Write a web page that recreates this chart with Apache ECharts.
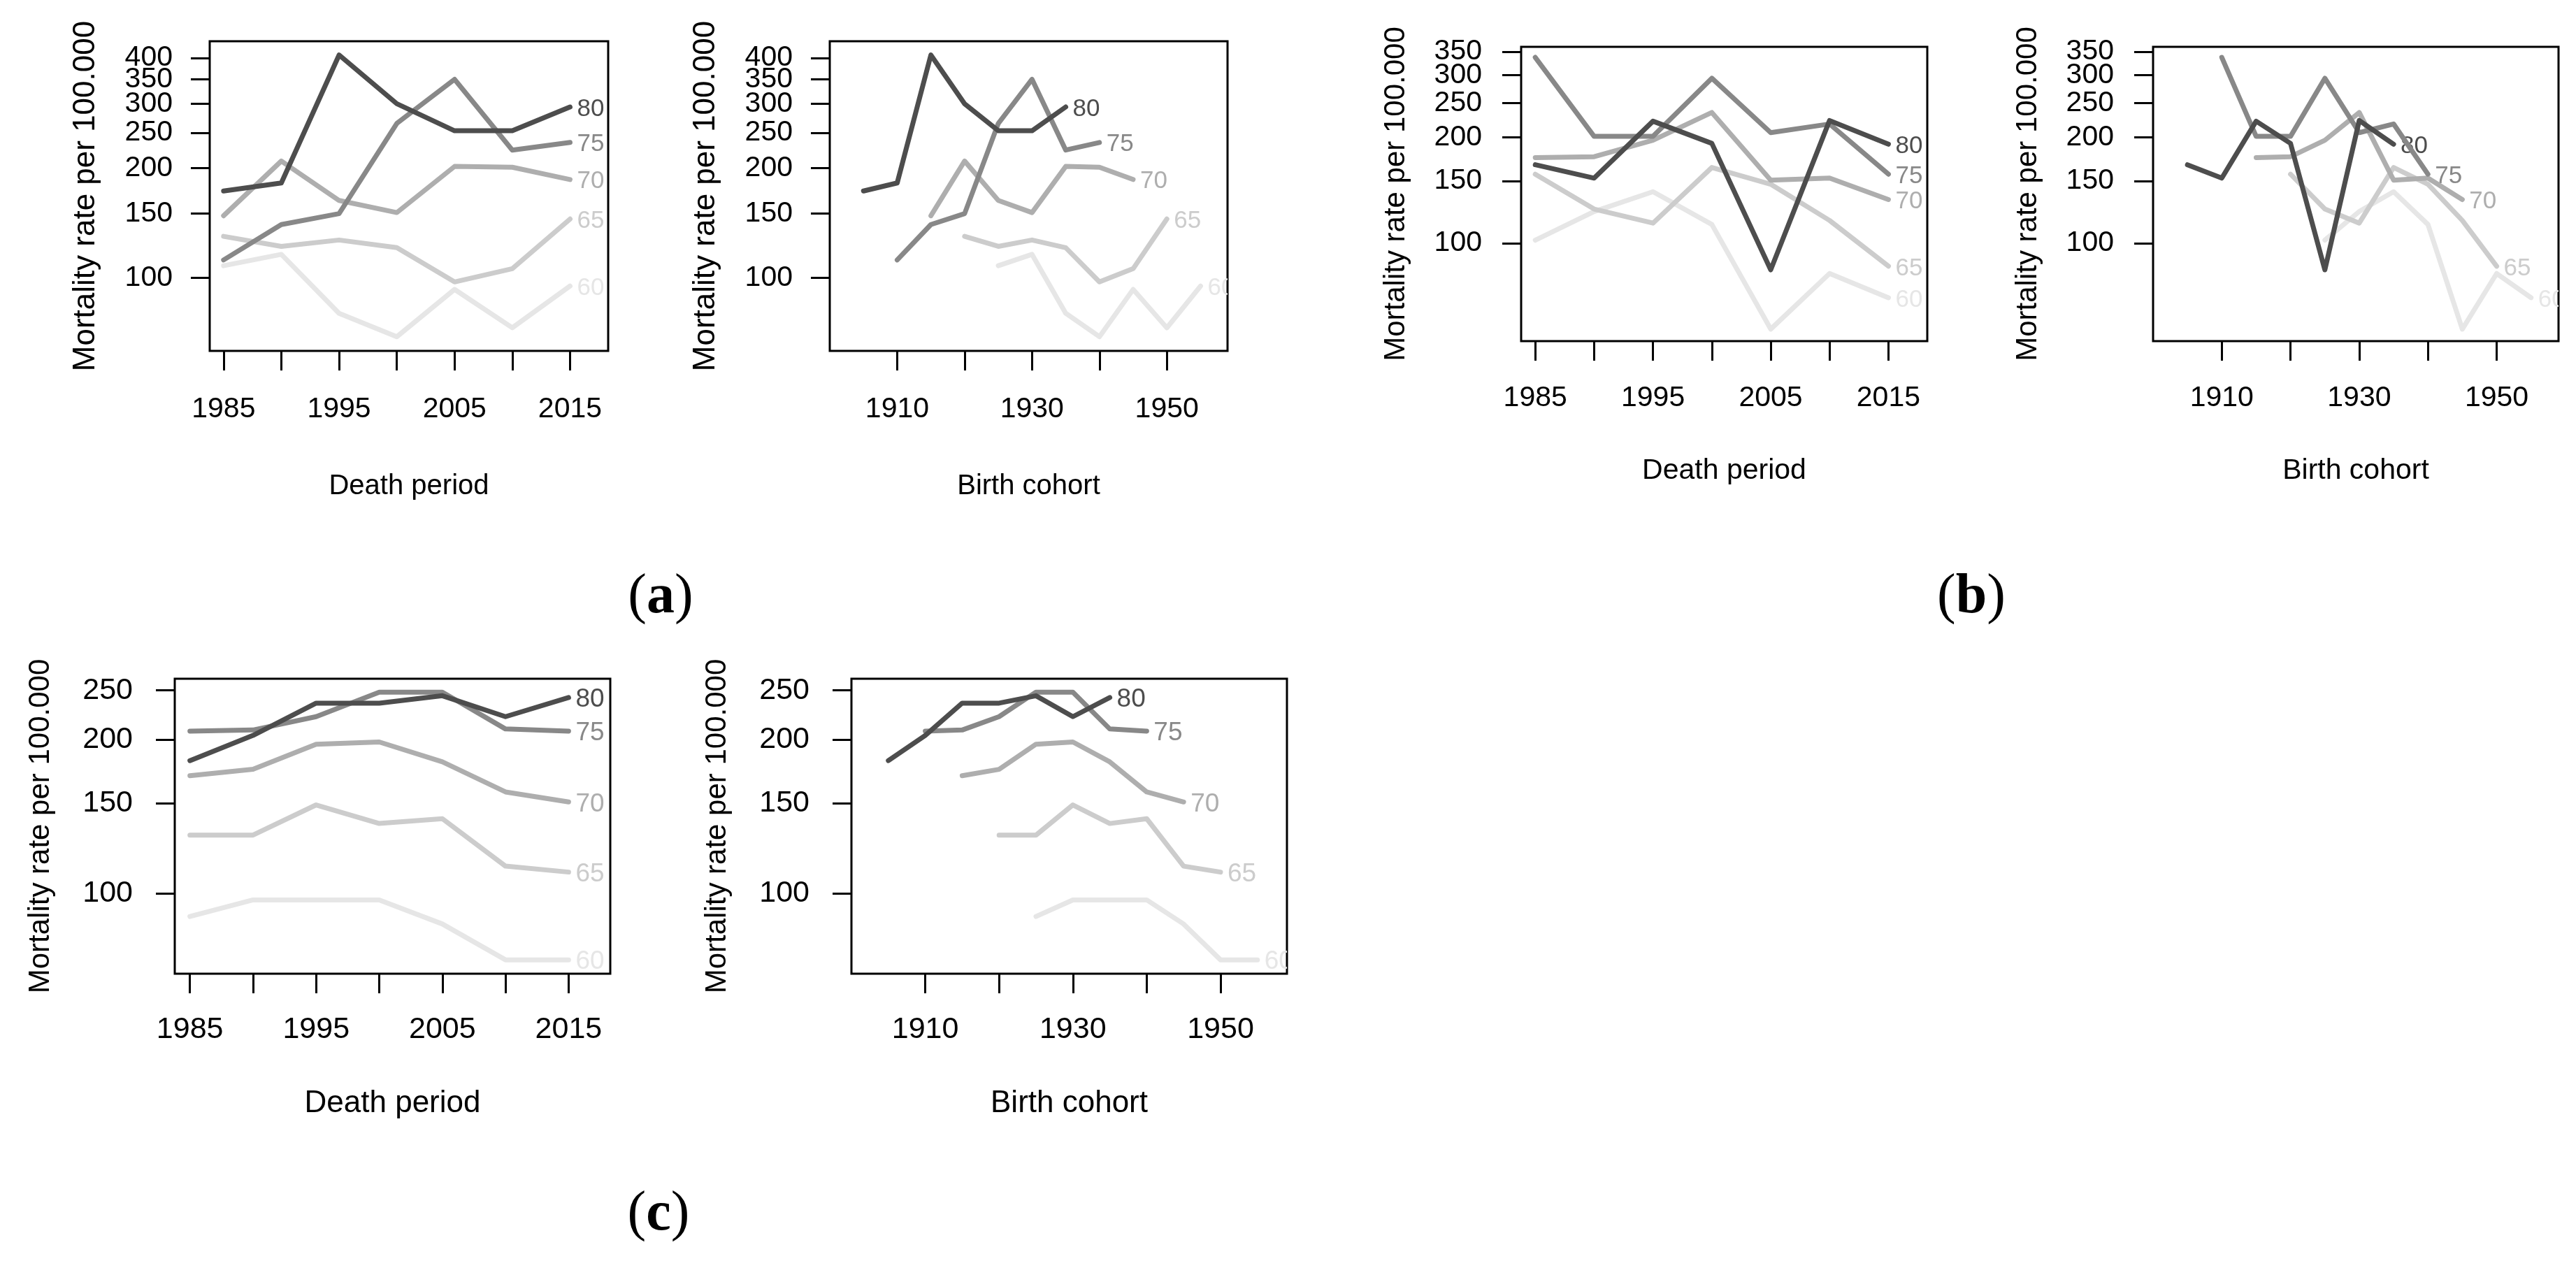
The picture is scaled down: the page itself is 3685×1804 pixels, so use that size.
<!DOCTYPE html>
<html><head><meta charset="utf-8">
<script src="https://cdn.jsdelivr.net/npm/echarts@6.0.0/dist/echarts.min.js"></script>
<style>html,body{margin:0;padding:0;background:#fff;} #chart{width:3685px;height:1804px;}</style>
</head><body><div id="chart"></div>
<script>
// ---- data ----
const periods = [1985, 1990, 1995, 2000, 2005, 2010, 2015];
const ageGroups = [60, 65, 70, 75, 80];
// panel (a)
const a60 = [108, 116, 80, 69, 93, 73, 95];
const a65 = [130, 122, 127, 121, 97.5, 106, 145];
const a70 = [148, 209, 163, 151, 202, 201, 186];
const a75 = [112, 140, 150, 265, 350, 224, 235];
const a80 = [173, 182, 408, 300, 253, 253, 294];
// panel (b)
const b60 = [102, 123, 140, 113, 57, 82, 70];
const b65 = [157, 125, 114, 164, 147, 116, 86];
const b70 = [175, 176, 196, 235, 151, 153, 133];
const b75 = [337, 201, 201, 294, 206, 218, 157];
const b80 = [167, 153, 222, 192, 84, 223, 191];
// panel (c)
const c60 = [90, 97, 97, 97, 87, 74, 74];
const c65 = [130, 130, 149, 137, 140, 113, 110];
const c70 = [170, 175, 196, 198, 181, 158, 151];
const c75 = [208, 209, 222, 248, 248, 210, 208];
const c80 = [182, 204, 236, 236, 244, 222, 242];
// tick values and tick labels
const yTicksA = [100, 150, 200, 250, 300, 350, 400];
const yTicksB = [100, 150, 200, 250, 300, 350];
const yTicksC = [100, 150, 200, 250];
// labels split in two sets so that the overlapping ones (as in the original) are all drawn
const yLabelsA = [100, 150, 200, 250, 300, 400];
const yLabelsAextra = [350];
const yLabelsB = [100, 150, 200, 250, 350];
const yLabelsBextra = [300];
const yLabelsC = [100, 150, 200, 250];
const yLabelsCextra = [];
const periodTicks = [1985, 1990, 1995, 2000, 2005, 2010, 2015];
const periodLabels = [1985, 1995, 2005, 2015];
const cohortTicks = [1910, 1920, 1930, 1940, 1950];
const cohortLabels = [1910, 1930, 1950];
const yTitle = 'Mortality rate per 100.000';
const periodTitle = 'Death period';
const cohortTitle = 'Birth cohort';

// ---- styles / layout ----
const lineColors = ['#E6E6E6', '#CCCCCC', '#AEAEAE', '#888888', '#4D4D4D'];
const FONT = "'Liberation Sans', Arial, sans-serif";
const SERIF = "'Liberation Serif', 'Times New Roman', serif";

const styleA = {yMin: 63.1, yMax: 445, top: 59, height: 443, tickFs: 41, xTitleFs: 40, yTitleFs: 44, lblFs: 35,
  xLabelMargin: 63, yLabelMargin: 53, xNameGap: 174, yNameGap: 155};
const styleB = {yMin: 52.7, yMax: 361, top: 67, height: 421, tickFs: 41, xTitleFs: 41, yTitleFs: 42, lblFs: 35,
  xLabelMargin: 61, yLabelMargin: 56, xNameGap: 165, yNameGap: 158};
const styleC = {yMin: 69.5, yMax: 263.5, top: 971, height: 422, tickFs: 43, xTitleFs: 44, yTitleFs: 42, lblFs: 37,
  xLabelMargin: 59, yLabelMargin: 60, xNameGap: 164, yNameGap: 171};

const panels = [
  {rates: [a60, a65, a70, a75, a80], yTicks: yTicksA, yLab: yLabelsA, yLab2: yLabelsAextra, cohort: false, left: 300, width: 570, st: styleA},
  {rates: [a60, a65, a70, a75, a80], yTicks: yTicksA, yLab: yLabelsA, yLab2: yLabelsAextra, cohort: true, left: 1187, width: 569, st: styleA},
  {rates: [b60, b65, b70, b75, b80], yTicks: yTicksB, yLab: yLabelsB, yLab2: yLabelsBextra, cohort: false, left: 2176, width: 581, st: styleB},
  {rates: [b60, b65, b70, b75, b80], yTicks: yTicksB, yLab: yLabelsB, yLab2: yLabelsBextra, cohort: true, left: 3080, width: 580, st: styleB},
  {rates: [c60, c65, c70, c75, c80], yTicks: yTicksC, yLab: yLabelsC, yLab2: yLabelsCextra, cohort: false, left: 250, width: 623, st: styleC},
  {rates: [c60, c65, c70, c75, c80], yTicks: yTicksC, yLab: yLabelsC, yLab2: yLabelsCextra, cohort: true, left: 1218, width: 623, st: styleC}
];

const grids = [], xAxes = [], yAxes = [], series = [];
panels.forEach((p, i) => {
  const st = p.st;
  grids.push({left: p.left, top: st.top, width: p.width, height: st.height, show: true,
    borderColor: '#000', borderWidth: 3, backgroundColor: 'transparent', containLabel: false, outerBoundsMode: 'none'});
  xAxes.push({
    gridIndex: i, type: 'value',
    min: p.cohort ? 1900 : 1983.8, max: p.cohort ? 1959 : 2018.3,
    name: p.cohort ? cohortTitle : periodTitle, nameLocation: 'middle', nameGap: st.xNameGap,
    nameTextStyle: {fontSize: st.xTitleFs, color: '#000', fontFamily: FONT},
    axisLine: {show: false, onZero: false}, splitLine: {show: false},
    axisTick: {show: true, inside: false, length: 28, lineStyle: {color: '#000', width: 3},
      customValues: p.cohort ? cohortTicks : periodTicks},
    axisLabel: {show: true, customValues: p.cohort ? cohortLabels : periodLabels, margin: st.xLabelMargin,
      hideOverlap: false,
      fontSize: st.tickFs, color: '#000', fontFamily: FONT, formatter: v => String(v)}
  });
  const yIndex = yAxes.length;
  yAxes.push({
    gridIndex: i, type: 'log', logBase: 10, min: st.yMin, max: st.yMax, position: 'left',
    name: yTitle, nameLocation: 'middle', nameGap: st.yNameGap,
    nameTextStyle: {fontSize: st.yTitleFs, color: '#000', fontFamily: FONT},
    axisLine: {show: false, onZero: false}, splitLine: {show: false}, minorTick: {show: false},
    axisTick: {show: true, inside: false, length: 27, lineStyle: {color: '#000', width: 3}, customValues: p.yTicks},
    axisLabel: {show: true, customValues: p.yLab, margin: st.yLabelMargin, fontSize: st.tickFs,
      hideOverlap: false, color: '#000', fontFamily: FONT, formatter: v => String(Math.round(v))}
  });
  if (p.yLab2.length) {
    yAxes.push({
      gridIndex: i, type: 'log', logBase: 10, min: st.yMin, max: st.yMax, position: 'left', offset: 0,
      axisLine: {show: false, onZero: false}, splitLine: {show: false}, minorTick: {show: false},
      axisTick: {show: false},
      axisLabel: {show: true, customValues: p.yLab2, margin: st.yLabelMargin, fontSize: st.tickFs,
        hideOverlap: false, color: '#000', fontFamily: FONT, formatter: v => String(Math.round(v))}
    });
  }
  ageGroups.forEach((age, k) => {
    series.push({
      type: 'line', xAxisIndex: i, yAxisIndex: yIndex, silent: true, animation: false, clip: true,
      symbol: 'none', showSymbol: false,
      lineStyle: {color: lineColors[k], width: 7, cap: 'round', join: 'round'},
      itemStyle: {color: lineColors[k]},
      data: periods.map((yr, j) => [p.cohort ? yr - age : yr, p.rates[k][j]])
    });
  });
  const last = periods.length - 1;
  series.push({
    type: 'custom', xAxisIndex: i, yAxisIndex: yIndex, silent: true, animation: false, clip: true,
    data: ageGroups.map((age, k) => [p.cohort ? periods[last] - age : periods[last], p.rates[k][last], k]),
    renderItem: (params, api) => {
      const pt = api.coord([api.value(0), api.value(1)]);
      const k = api.value(2);
      return {type: 'text', x: pt[0] + 10, y: pt[1] + 3,
        style: {text: String(ageGroups[k]), fill: lineColors[k], fontSize: st.lblFs, fontFamily: FONT,
          align: 'left', verticalAlign: 'middle'}};
    }
  });
});

const panelTag = (x, y, letter) => ({
  type: 'text', x: x, y: y, silent: true,
  style: {text: '{p|(}{b|' + letter + '}{p|)}', align: 'center', verticalAlign: 'middle', fill: '#000',
    rich: {p: {fontFamily: SERIF, fontSize: 80, fill: '#000'},
           b: {fontFamily: SERIF, fontSize: 80, fontWeight: 'bold', fill: '#000'}}}
});

const chart = echarts.init(document.getElementById('chart'), null, {renderer: 'canvas'});
chart.setOption({
  backgroundColor: '#fff',
  animation: false,
  grid: grids, xAxis: xAxes, yAxis: yAxes, series: series,
  graphic: [panelTag(945, 855, 'a'), panelTag(2820, 855, 'b'), panelTag(942, 1738, 'c')]
});
</script>
</body></html>
